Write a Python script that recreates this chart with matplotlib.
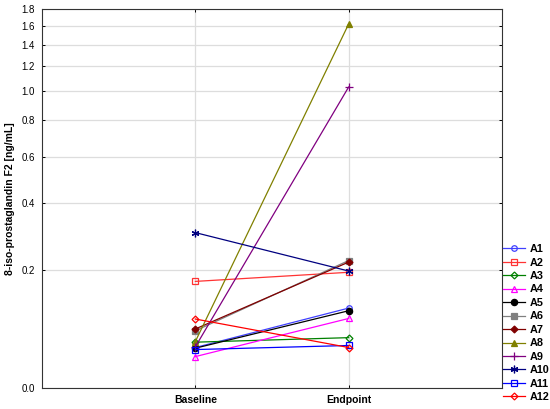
import numpy as np
import matplotlib
matplotlib.use('Agg')
import matplotlib.pyplot as plt

plt.rcParams['font.family'] = ['Liberation Sans', 'DejaVu Sans']

# 8-iso-prostaglandin F2 per subject, baseline -> endpoint [ng/mL]
timepoints = ['Baseline', 'Endpoint']
subjects = ['A1', 'A2', 'A3', 'A4', 'A5', 'A6', 'A7', 'A8', 'A9', 'A10', 'A11', 'A12']
baseline = [0.053, 0.174, 0.061, 0.040, 0.052, 0.079, 0.082, 0.062, 0.054, 0.302, 0.050, 0.099]
endpoint = [0.119, 0.195, 0.068, 0.100, 0.114, 0.224, 0.220, 1.624, 1.031, 0.198, 0.056, 0.053]

colors = ['#4040ff', '#ff3333', '#008000', '#ff00ff', '#000000', '#808080',
          '#800000', '#808000', '#800080', '#000080', '#0000ff', '#ff0000']
markers = ['o', 's', 'D', '^', 'o', 's', 'D', '^', '+', (6, 2, 0), 's', 'D']
filled = [False, False, False, False, True, True, True, True, True, True, False, False]
msizes = [4, 4, 3.5, 4.5, 4.5, 4.5, 3.5, 4.5, 6, 5.5, 4, 3.5]

# the value axis is log(x + c)
c = 0.18


def fwd(v):
    return np.log(np.clip(v, -c + 1e-9, None) + c)


def inv(u):
    return np.exp(u) - c


fig = plt.figure(figsize=(5.5, 4.09), dpi=100)
ax = fig.add_axes([0.0764, 0.0506, 0.8363, 0.9267])

xs = np.arange(1, len(timepoints) + 1)
for i, name in enumerate(subjects):
    ax.plot(xs, [baseline[i], endpoint[i]], color=colors[i], lw=0.9,
            marker=markers[i], ms=msizes[i], mew=0.9,
            mfc=colors[i] if filled[i] else 'none', mec=colors[i],
            label=name, zorder=3)

ax.set_yscale('function', functions=(fwd, inv))
ax.set_ylim(0, 1.8)
yt = np.arange(0, 1.81, 0.2)
ax.set_yticks(yt)
ax.set_yticklabels(['%.1f' % t for t in yt], fontsize=7)
ax.yaxis.set_minor_locator(matplotlib.ticker.NullLocator())
ax.set_xlim(0, len(timepoints) + 1)
ax.set_xticks(xs)
ax.set_xticklabels(timepoints, fontsize=7.5, fontweight='bold')
ax.tick_params(direction='in', length=2.5, width=0.7, top=True, right=True, pad=5)
ax.grid(True, color='#dddddd', lw=0.9, zorder=0)
ax.set_axisbelow(True)
for s in ax.spines.values():
    s.set_linewidth(0.8)
    s.set_color('#333333')

ax.set_ylabel('8-iso-prostaglandin F2 [ng/mL]', fontsize=7.5, fontweight='bold')
ax.yaxis.set_label_coords(-0.058, 0.5)

fig.legend(loc='center left', bbox_to_anchor=(0.915, 0.21), frameon=False,
           prop={'size': 7.8, 'weight': 'bold'}, handlelength=2.0,
           handletextpad=0.4, labelspacing=0.32, borderpad=0, borderaxespad=0)

fig.savefig('out.png', dpi=100)
